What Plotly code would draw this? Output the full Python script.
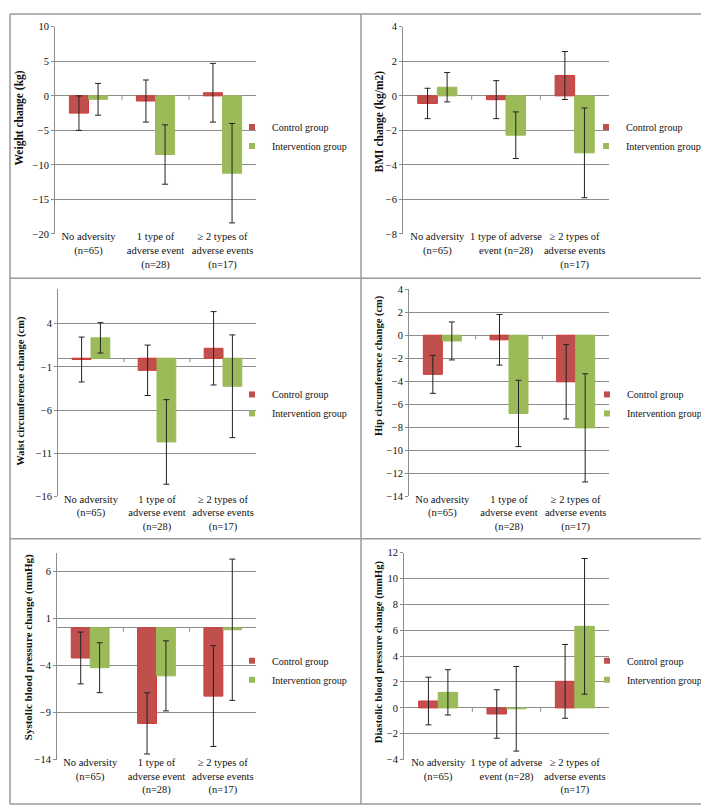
import plotly.graph_objects as go

W, H = 709, 806

# ---------------- data ----------------
cats_a = ["No adversity<br>(n=65)", "1 type of<br>adverse event<br>(n=28)", "≥ 2 types of<br>adverse events<br>(n=17)"]
cats_b = ["No adversity<br>(n=65)", "1 type of adverse<br>event (n=28)", "≥ 2 types of<br>adverse events<br>(n=17)"]
series_names = ["Control group", "Intervention group"]

weight_control = [-2.5, -0.75, 0.45]
weight_control_err = [2.5, 3.05, 4.25]
weight_interv = [-0.5, -8.5, -11.2]
weight_interv_err = [2.3, 4.3, 7.2]

bmi_control = [-0.44, -0.22, 1.18]
bmi_control_err = [0.88, 1.1, 1.39]
bmi_interv = [0.5, -2.28, -3.3]
bmi_interv_err = [0.85, 1.35, 2.6]

waist_control = [-0.15, -1.4, 1.15]
waist_control_err = [2.6, 2.92, 4.25]
waist_interv = [2.36, -9.7, -3.25]
waist_interv_err = [1.76, 4.9, 5.95]

hip_control = [-3.4, -0.4, -4.05]
hip_control_err = [1.65, 2.2, 3.23]
hip_interv = [-0.5, -6.8, -8.05]
hip_interv_err = [1.65, 2.88, 4.7]

sys_control = [-3.2, -10.15, -7.25]
sys_control_err = [2.75, 3.25, 5.35]
sys_interv = [-4.23, -5.1, -0.2]
sys_interv_err = [2.65, 3.72, 7.5]

dia_control = [0.53, -0.47, 2.05]
dia_control_err = [1.84, 1.87, 2.85]
dia_interv = [1.2, -0.07, 6.3]
dia_interv_err = [1.75, 3.27, 5.24]

y_titles = ["Weight change (kg)", "BMI change (kg/m2)", "Waist circumference change (cm)",
            "Hip circumference change (cm)", "Systolic blood pressure change (mmHg)",
            "Diastolic blood pressure change (mmHg)"]

# ---------------- styling / layout ----------------
FONT = "Liberation Serif"
RED, RED_LINE = "#C0504D", "#D03A36"
GREEN, GREEN_LINE = "#9BBB59", "#9BBB59"
GRID = "#8C8C8C"

panels = [
    dict(cats=cats_a, c=weight_control, ce=weight_control_err, i=weight_interv, ie=weight_interv_err,
         rng=[-20, 10], tick0=-20, dtick=5, box=(47, 248, 14, 224), leg=(224, 101),
         title_pos=(12, 107), title_size=11.5),
    dict(cats=cats_b, c=bmi_control, ce=bmi_control_err, i=bmi_interv, ie=bmi_interv_err,
         rng=[-8, 4], tick0=-8, dtick=2, box=(395, 601, 14, 224), leg=(578, 101),
         title_pos=(371, 110), title_size=11.5),
    dict(cats=cats_a, c=waist_control, ce=waist_control_err, i=waist_interv, ie=waist_interv_err,
         rng=[-16, 8], tick0=-16, dtick=5, box=(50, 248, 280, 490), leg=(224, 372),
         title_pos=(13, 383), title_size=10.5),
    dict(cats=cats_a, c=hip_control, ce=hip_control_err, i=hip_interv, ie=hip_interv_err,
         rng=[-14, 4], tick0=-14, dtick=2, box=(401, 601, 280, 490), leg=(579, 372),
         title_pos=(371, 358), title_size=10.5),
    dict(cats=cats_a, c=sys_control, ce=sys_control_err, i=sys_interv, ie=sys_interv_err,
         rng=[-14, 8], tick0=-14, dtick=5, box=(49, 248, 547, 757), leg=(224, 642),
         title_pos=(20, 643), title_size=11),
    dict(cats=cats_b, c=dia_control, ce=dia_control_err, i=dia_interv, ie=dia_interv_err,
         rng=[-4, 12], tick0=-4, dtick=2, box=(396, 601, 547, 757), leg=(579, 642),
         title_pos=(371, 648), title_size=10.5),
]

fig = go.Figure()
layout_axes = {}
shapes = []
annotations = []

for k, p in enumerate(panels):
    n = k + 1
    xa = "x" if n == 1 else f"x{n}"
    ya = "y" if n == 1 else f"y{n}"
    lg = "legend" if n == 1 else f"legend{n}"
    err_style = dict(type="data", color="#222222", thickness=1, width=3)
    fig.add_trace(go.Bar(x=p["cats"], y=p["c"], name=series_names[0],
                         marker=dict(color=RED, line=dict(color=RED_LINE, width=1)),
                         error_y=dict(array=p["ce"], **err_style),
                         xaxis=xa, yaxis=ya, showlegend=False))
    fig.add_trace(go.Bar(x=p["cats"], y=p["i"], name=series_names[1],
                         marker=dict(color=GREEN, line=dict(color=GREEN_LINE, width=1)),
                         error_y=dict(array=p["ie"], **err_style),
                         xaxis=xa, yaxis=ya, showlegend=False))
    # legend entries
    for nm, col in zip(series_names, [RED, GREEN]):
        fig.add_trace(go.Scatter(x=[None], y=[None], mode="markers", name=nm,
                                 marker=dict(symbol="square", size=6, color=col),
                                 xaxis=xa, yaxis=ya, legend=lg, showlegend=True))
    x0, x1, y0, y1 = p["box"]
    xkey = "xaxis" if n == 1 else f"xaxis{n}"
    ykey = "yaxis" if n == 1 else f"yaxis{n}"
    layout_axes[xkey] = dict(domain=[x0 / W, x1 / W], anchor=ya, showgrid=False, showline=False,
                             ticks="", tickfont=dict(family=FONT, size=10.5, color="#111"),
                             ticklabelstandoff=-5,
                             tickangle=0, zeroline=False, fixedrange=True)
    layout_axes[ykey] = dict(domain=[1 - y1 / H, 1 - y0 / H], anchor=xa, range=p["rng"],
                             tick0=p["tick0"], dtick=p["dtick"], showgrid=True, gridcolor=GRID,
                             gridwidth=1, zeroline=True, zerolinecolor=GRID, zerolinewidth=1,
                             showline=True, linecolor=GRID, linewidth=1, ticks="outside",
                             ticklen=3, tickcolor=GRID,
                             tickfont=dict(family=FONT, size=10.5, color="#111"),
                             fixedrange=True)
    layout_axes[lg] = dict(x=p["leg"][0] / W, y=1 - p["leg"][1] / H, xanchor="left", yanchor="top",
                           bgcolor="rgba(0,0,0,0)", font=dict(family=FONT, size=10, color="#111"),
                           itemwidth=30, tracegroupgap=0)
    # y-axis title (rotated)
    tx, ty = p["title_pos"]
    annotations.append(dict(text=f"<b>{y_titles[k]}</b>", xref="paper", yref="paper",
                            x=tx / W, y=1 - ty / H, xanchor="center", yanchor="middle",
                            textangle=-90, showarrow=False,
                            font=dict(family=FONT, size=p["title_size"], color="#111")))
    # small tick marks at category boundaries on the zero line
    for xb in [0.5, 1.5]:
        shapes.append(dict(type="line", xref=xa, yref=ya, x0=xb, x1=xb, ysizemode="pixel",
                           yanchor=0, y0=0, y1=-4, line=dict(color=GRID, width=1)))

# panel frame
BL, BR, BT, BB = 2, 707, 1, 802
for (ax0, ay0, ax1, ay1) in [(BL, BT, BR, BT), (BL, BB, BR, BB), (BL, BT, BL, BB), (BR, BT, BR, BB),
                             (353, BT, 353, BB), (BL, 269, BR, 269), (BL, 533, BR, 533)]:
    shapes.append(dict(type="line", xref="paper", yref="paper", x0=ax0 / W, x1=ax1 / W,
                       y0=1 - ay0 / H, y1=1 - ay1 / H, line=dict(color="#9A9A9A", width=1.5)))

fig.update_layout(width=W, height=H, margin=dict(l=0, r=0, t=0, b=0),
                  paper_bgcolor="white", plot_bgcolor="white",
                  barmode="group", bargap=0.43, bargroupgap=0,
                  font=dict(family=FONT, color="#111"), shapes=shapes, annotations=annotations,
                  **layout_axes)

fig.write_html("out.html")
